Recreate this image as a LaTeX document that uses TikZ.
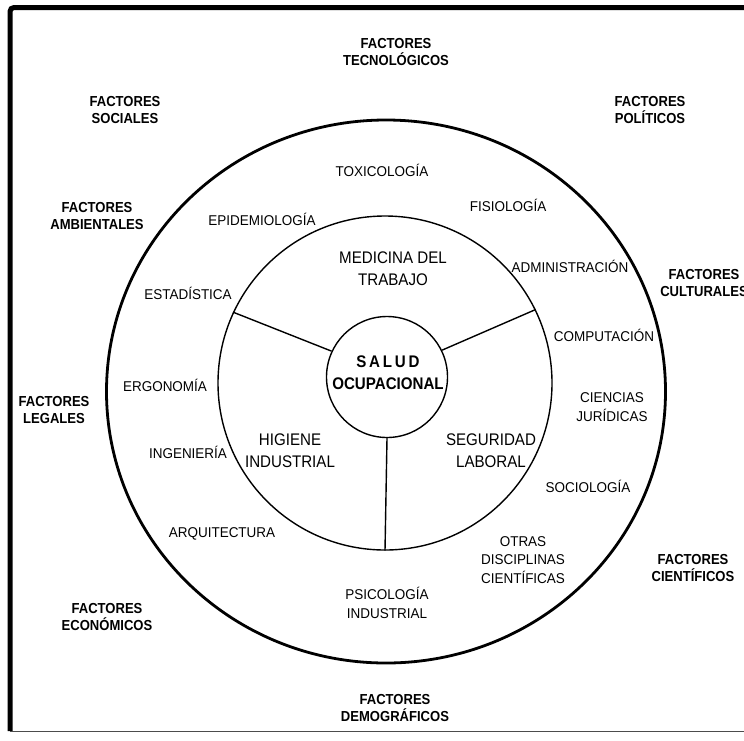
\documentclass[tikz,border=0pt]{standalone}
\usepackage{fontspec}
\setmainfont{Liberation Sans}
\newfontfamily\narrowfont{Liberation Sans}[FakeStretch=0.9]
\newfontfamily\discfont{Liberation Sans}[FakeStretch=0.95]
\usetikzlibrary{shapes.geometric}
\begin{document}
\begin{tikzpicture}[x=1pt,y=-1pt,
  factor/.style={font=\narrowfont\fontsize{14.5}{16.5}\selectfont\bfseries, align=center, inner sep=0pt},
  disc/.style={font=\discfont\fontsize{14.2}{18.5}\selectfont, align=center, inner sep=0pt},
  area/.style={font=\narrowfont\fontsize{16.8}{22}\selectfont, align=center, inner sep=0pt},
  ring/.style={draw=black, line width=1.4pt}]
\useasboundingbox (0,0) rectangle (744,740);
\fill[white] (0,0) rectangle (744,740);
% frame
\draw[line width=5pt, rounded corners=4pt] (10,731) -- (10,7.5) -- (746,7.5);
\draw[line width=1pt, black!70] (10,731) -- (746,731);
% circles
\node[draw=black, line width=2.8pt, ellipse, minimum width=559pt, minimum height=543pt, inner sep=0pt] (outer) at (386,391.5) {};
\node[ring, circle, minimum size=334pt, inner sep=0pt] (mid) at (385,383) {};
\node[ring, circle, minimum size=121pt, inner sep=0pt] (core) at (387,377) {};
\node[font=\narrowfont\fontsize{16.8}{22}\selectfont\bfseries, align=center] (salud) at (388,373) {S\,A\,L\,U\,D\\OCUPACIONAL};
% spokes
\draw[line width=1.4pt] (core.155) -- (mid.155);
\draw[line width=1.4pt] (core.26) -- (mid.26);
\draw[line width=1.4pt] (core.south) -- (mid.south);
% areas
\node[area] (med) at (393,269) {MEDICINA DEL\\TRABAJO};
\node[area] (hig) at (290,451) {HIGIENE\\INDUSTRIAL};
\node[area] (seg) at (491,451) {SEGURIDAD\\LABORAL};
% disciplines
\node[disc] (tox) at (382,170) {TOXICOLOGÍA};
\node[disc] (fis) at (508,205) {FISIOLOGÍA};
\node[disc] (epi) at (262,219) {EPIDEMIOLOGÍA};
\node[disc] (adm) at (570,266) {ADMINISTRACIÓN};
\node[disc] (est) at (188,293) {ESTADÍSTICA};
\node[disc] (com) at (604,335) {COMPUTACIÓN};
\node[disc] (erg) at (165,385) {ERGONOMÍA};
\node[disc] (cie) at (612,407) {CIENCIAS\\JURÍDICAS};
\node[disc] (ing) at (188,452) {INGENIERÍA};
\node[disc] (soc) at (588,486) {SOCIOLOGÍA};
\node[disc] (arq) at (222,534) {ARQUITECTURA};
\node[disc] (otr) at (523,560) {OTRAS\\DISCIPLINAS\\CIENTÍFICAS};
\node[disc] (psi) at (387,603) {PSICOLOGÍA\\INDUSTRIAL};
% factors
\node[factor] (ftec) at (396,52) {FACTORES\\TECNOLÓGICOS};
\node[factor] (fsoc) at (125,110) {FACTORES\\SOCIALES};
\node[factor] (fpol) at (650,110) {FACTORES\\POLÍTICOS};
\node[factor] (famb) at (97,216) {FACTORES\\AMBIENTALES};
\node[factor] (fcul) at (704,283) {FACTORES\\CULTURALES};
\node[factor] (fleg) at (54,410) {FACTORES\\LEGALES};
\node[factor] (fcie) at (693,568) {FACTORES\\CIENTÍFICOS};
\node[factor] (feco) at (107,617) {FACTORES\\ECONÓMICOS};
\node[factor] (fdem) at (395,708) {FACTORES\\DEMOGRÁFICOS};
\end{tikzpicture}
\end{document}
